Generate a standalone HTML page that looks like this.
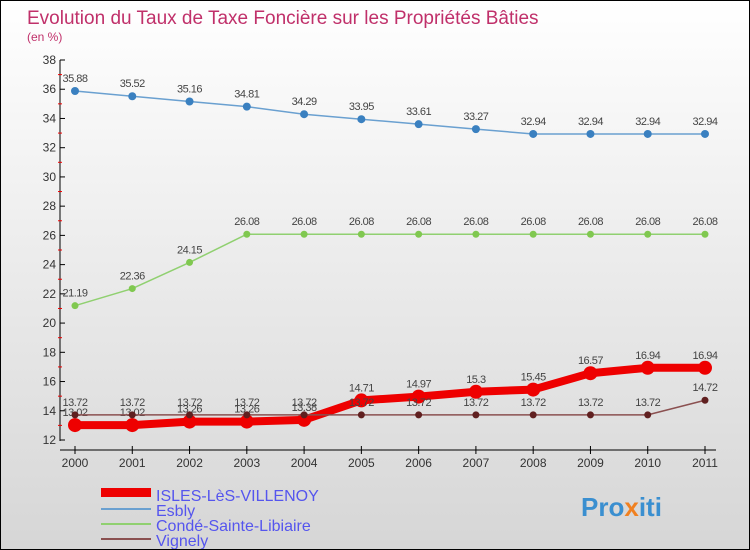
<!DOCTYPE html>
<html><head><meta charset="utf-8"><style>
body{margin:0}
#c{width:750px;height:550px;position:relative;box-sizing:border-box;border:1px solid #000;background:linear-gradient(#fff,#d6d6d6);font-family:"Liberation Sans",sans-serif;overflow:hidden}
</style></head><body>
<div id="c">
<svg id="s" width="748" height="548" xmlns="http://www.w3.org/2000/svg">
<text x="26" y="23" font-size="19" fill="#c0306a">Evolution du Taux de Taxe Foncière sur les Propriétés Bâties</text>
<text x="26" y="40" font-size="12" fill="#c0306a">(en %)</text>
<g id="axes"></g><g id="series"></g>
<g>
<rect x="100" y="487" width="50" height="9" fill="#e00"/>
<text x="155" y="500" font-size="16" fill="#5555ee">ISLES-LèS-VILLENOY</text>
<rect x="100" y="507" width="50" height="2" fill="#6aa0d0"/>
<text x="155" y="515" font-size="16" fill="#5555ee">Esbly</text>
<rect x="100" y="522" width="50" height="2" fill="#90d070"/>
<text x="155" y="530" font-size="16" fill="#5555ee">Condé-Sainte-Libiaire</text>
<rect x="100" y="537" width="50" height="2" fill="#8a5050"/>
<text x="155" y="545" font-size="16" fill="#5555ee">Vignely</text>
</g>
<text x="580" y="515" font-size="26" font-weight="bold" fill="#3a8fd0">Pro<tspan fill="#f08020">x</tspan>iti</text>
</svg></div>
<script>
const years=[2000,2001,2002,2003,2004,2005,2006,2007,2008,2009,2010,2011];
const isles=[13.02,13.02,13.26,13.26,13.38,14.71,14.97,15.3,15.45,16.57,16.94,16.94];
const esbly=[35.88,35.52,35.16,34.81,34.29,33.95,33.61,33.27,32.94,32.94,32.94,32.94];
const conde=[21.19,22.36,24.15,26.08,26.08,26.08,26.08,26.08,26.08,26.08,26.08,26.08];
const vignely=[13.72,13.72,13.72,13.72,13.72,13.72,13.72,13.72,13.72,13.72,13.72,14.72];
const yTicks=[12,14,16,18,20,22,24,26,28,30,32,34,36,38];
const NS="http://www.w3.org/2000/svg";
const X=i=>74+i*(630/11);
const Y=v=>59+(38-v)*(380/26);
function mk(t,a,p){const e=document.createElementNS(NS,t);for(const k in a)e.setAttribute(k,a[k]);p.appendChild(e);return e;}
const ax=document.getElementById('axes'),sg=document.getElementById('series');
let l=mk('line',{x1:59,y1:59,x2:59,y2:440,stroke:'#000'},ax);


l=mk('line',{x1:59,y1:449,x2:715,y2:449,stroke:'#000'},ax);


yTicks.forEach(v=>{
 const t=mk('line',{x1:59,y1:Y(v),x2:64,y2:Y(v),stroke:'#000'},ax);
 
 
 if(v<38){const m=mk('line',{x1:57,y1:Y(v+1),x2:61,y2:Y(v+1),stroke:'#e00'},ax);
 
 }
 const tx=mk('text',{x:55,y:Y(v)+4,'font-size':12,fill:'#333','text-anchor':'end'},ax);
 tx.textContent=v;
 
 
});
years.forEach((yr,i)=>{
 const t=mk('line',{x1:X(i),y1:445,x2:X(i),y2:453,stroke:'#000'},ax);
 
 
 const tx=mk('text',{x:X(i),y:466,'font-size':12,fill:'#333','text-anchor':'middle'},ax);
 tx.textContent=yr;
 
 
});
function series(name,data,color,w,r,dot){
 const g=mk('g',{},sg);
 
 
 const p=mk('polyline',{points:data.map((v,i)=>X(i)+','+Y(v)).join(' '),fill:'none',stroke:color,'stroke-width':w,'stroke-linejoin':'round'},g);
 
 
 data.forEach((v,i)=>{
  const c=mk('circle',{cx:X(i),cy:Y(v),r:r,fill:dot},g);
  
  
  const t=mk('text',{x:X(i),y:Y(v)-9,'font-size':11,fill:'#444','text-anchor':'middle','letter-spacing':'-0.5'},g);
  t.textContent=v;
  
  
 });
}
series('esbly',esbly,'#6aa0d0',1.5,4,'#3a80c0');
series('conde',conde,'#90d070',1.5,3.5,'#80c850');
series('isles',isles,'#ee0000',8,7,'#ee0000');
series('vignely',vignely,'#8a5050',1.5,3.5,'#602020');
</script>
</body></html>
